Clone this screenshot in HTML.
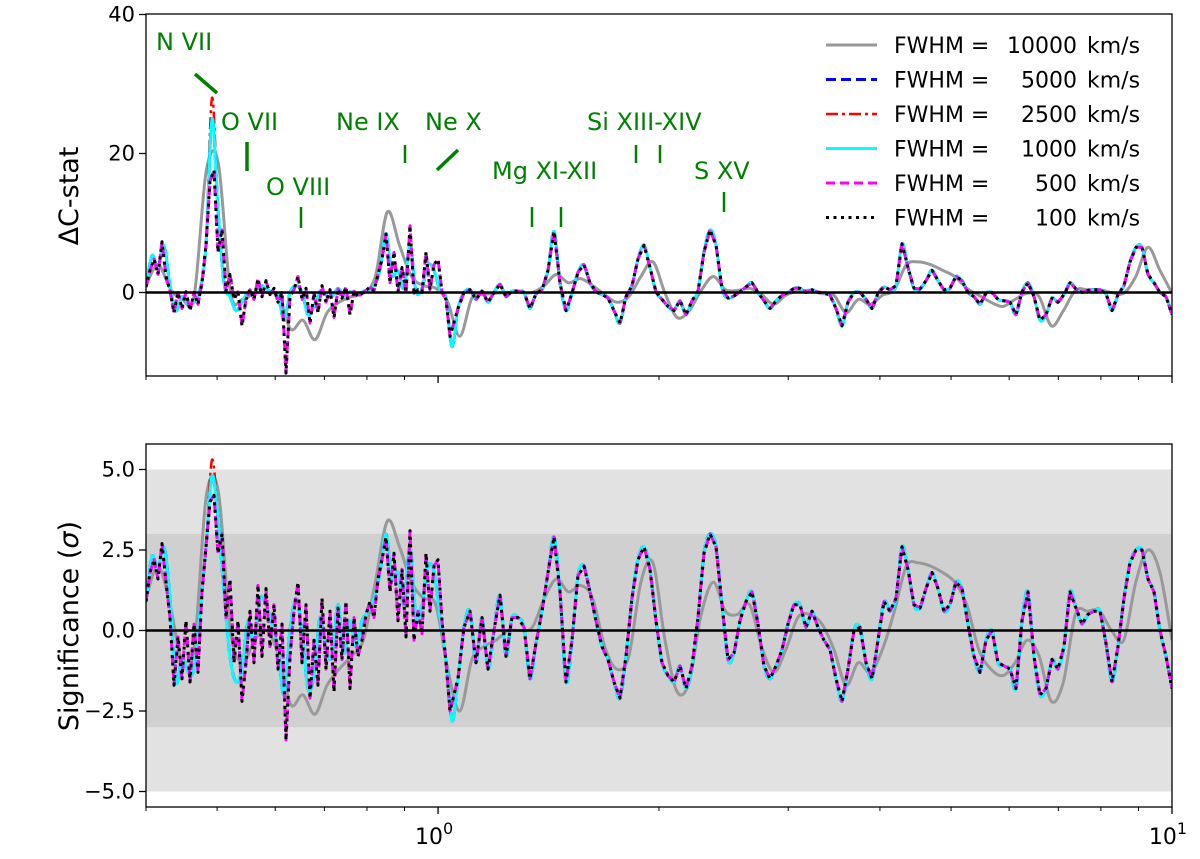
<!DOCTYPE html>
<html><head><meta charset="utf-8">
<style>
body{margin:0;background:#fff;}
svg{display:block;font-family:"DejaVu Sans","Liberation Sans",sans-serif;}
</style></head>
<body>
<svg id="chart" width="1200" height="859" viewBox="0 0 1200 859" xmlns="http://www.w3.org/2000/svg">
<defs>
<clipPath id="clipTop"><rect x="146" y="14" width="1026" height="362"/></clipPath>
<clipPath id="clipBot"><rect x="146" y="444" width="1026" height="363"/></clipPath>
</defs>
<g id="bands"></g>
<g id="top"></g>
<g id="bot"></g>
<g id="ann" fill="#008000" font-size="24">
<text x="156" y="50">N VII</text>
<line x1="195" y1="74" x2="217" y2="93" stroke="#008000" stroke-width="3.5"/>
<text x="221" y="130">O VII</text>
<line x1="247" y1="142" x2="247" y2="171" stroke="#008000" stroke-width="3.5"/>
<text x="266" y="195">O VIII</text>
<line x1="301" y1="207" x2="301" y2="228" stroke="#008000" stroke-width="2.5"/>
<text x="336" y="130">Ne IX</text>
<line x1="405" y1="145" x2="405" y2="163" stroke="#008000" stroke-width="2.5"/>
<text x="425" y="130">Ne X</text>
<line x1="437" y1="170" x2="458" y2="150" stroke="#008000" stroke-width="3.5"/>
<text x="492" y="179">Mg XI-XII</text>
<line x1="532" y1="207" x2="532" y2="227" stroke="#008000" stroke-width="2.5"/>
<line x1="561" y1="207" x2="561" y2="227" stroke="#008000" stroke-width="2.5"/>
<text x="587" y="130">Si XIII-XIV</text>
<line x1="636" y1="145" x2="636" y2="163" stroke="#008000" stroke-width="2.5"/>
<line x1="660" y1="145" x2="660" y2="163" stroke="#008000" stroke-width="2.5"/>
<text x="694" y="179">S XV</text>
<line x1="724" y1="192" x2="724" y2="212" stroke="#008000" stroke-width="2.5"/>
</g>
<g id="axes"></g>
<g id="legend" font-size="22" fill="#000"></g>
</svg>
<script>
// ---- data ----
const eMin = 0.4, eMax = 10;
const noiseEMax = 1.038;
// significance, narrow-line solutions (1000/2500/5000 km/s) on log grid 0.4-10 keV
const sigNarrow = [0.9,2.3,1.9,2.6,1.0,-1.6,-0.8,-1.3,-1.2,0.6,2.6,4.8,3.5,1.2,-0.8,-1.6,-1.2,0.3,-0.4,1.0,0.8,0.2,-0.6,-2.0,0.0,1.0,0.0,-1.8,-1.4,0.4,-0.6,-0.8,0.8,-0.7,0.3,-0.5,0.3,0.6,1.0,1.8,3.0,1.6,1.8,0.8,2.6,0.4,0.8,2.0,1.8,0.4,-0.9,-2.8,-1.5,0.1,0.6,-1.0,0.4,-1.2,0.0,1.1,-0.8,0.4,0.4,0.1,-1.5,-0.4,0.6,1.8,2.9,1.2,-1.6,-0.3,1.7,2.0,1.2,0.3,-0.5,-0.9,-1.6,-2.1,-0.8,1.0,2.2,2.6,1.9,0.3,-1.0,-1.4,-1.6,-1.1,-1.8,-1.1,0.4,2.4,3.0,2.6,0.8,-0.9,-0.7,0.3,0.9,1.2,0.2,-1.1,-1.5,-1.1,-0.6,0.2,0.8,0.8,0.1,0.6,0.1,-0.3,-0.6,-1.5,-2.2,-1.2,0.0,0.1,-1.0,-1.5,-0.3,0.9,0.6,1.0,2.6,1.9,0.8,0.7,1.3,1.8,1.3,0.6,0.8,1.5,1.3,0.2,-0.8,-1.3,-0.3,0.0,-1.0,-1.1,-1.2,-1.8,0.3,1.2,-0.8,-2.0,-1.8,-0.9,-1.2,-0.5,1.2,0.7,0.2,0.5,0.6,0.6,-0.4,-1.6,-0.5,1.0,2.1,2.5,2.5,1.6,1.2,0.0,-0.8,-1.8];
const dcNarrow = [0.8,5.3,3.6,6.8,1.0,-2.6,-0.6,-1.7,-1.4,0.4,6.8,25,12,1.4,-0.6,-2.6,-1.4,0.1,-0.2,1.0,0.6,0.0,-0.4,-4.0,0.0,1.0,0.0,-3.2,-2.0,0.2,-0.4,-0.6,0.6,-0.5,0.1,-0.3,0.1,0.4,1.0,3.2,8.5,2.6,3.2,0.6,6.8,0.2,0.6,4.0,3.2,0.2,-0.8,-7.8,-2.3,0.0,0.4,-1.0,0.2,-1.4,0.0,1.2,-0.6,0.2,0.2,0.0,-2.3,-0.2,0.4,3.2,8.8,1.4,-2.6,-0.1,2.9,4.0,1.4,0.1,-0.3,-0.8,-2.6,-4.4,-0.6,1.0,4.8,6.8,3.6,0.1,-1.0,-2.0,-2.6,-1.2,-3.2,-1.2,0.2,5.8,9.0,6.8,0.6,-0.8,-0.5,0.1,0.8,1.4,0.0,-1.2,-2.3,-1.2,-0.4,0.0,0.6,0.6,0.0,0.4,0.0,-0.1,-0.4,-2.3,-4.8,-1.4,0.0,0.0,-1.0,-2.3,-0.1,0.8,0.4,1.0,7.0,3.6,0.6,0.5,1.7,3.2,1.7,0.4,0.6,2.3,1.7,0.0,-0.6,-1.7,-0.1,0.0,-1.0,-1.2,-1.4,-3.2,0.1,1.4,-0.6,-4.0,-3.2,-0.8,-1.4,-0.3,1.4,0.5,0.0,0.3,0.4,0.4,-0.2,-2.6,-0.3,1.0,4.4,6.5,6.5,2.6,1.4,0.0,-0.6,-3.2];
// broad solution (10000 km/s), coarser log grid
const sigGray = [1.0,2.0,0.8,-1.0,-0.5,4.2,4.3,0.0,-1.0,-0.3,0.0,-0.8,-2.3,-2.0,-2.6,-1.7,-1.2,-0.8,-0.3,1.5,3.4,2.6,1.5,1.0,0.8,-1.2,-2.5,-0.9,-0.5,-0.3,0.0,0.0,0.1,1.0,1.6,1.2,1.4,1.0,-0.5,-1.2,-0.8,1.5,2.1,-0.3,-1.9,-1.6,0.5,1.5,0.6,0.5,0.8,-0.5,-1.3,-0.6,0.4,0.5,0.2,-0.6,-1.7,-1.0,-1.3,-0.6,0.6,2.0,2.1,2.0,1.8,1.5,0.8,-0.6,-1.2,-1.4,-1.0,-0.3,-0.8,-2.2,-1.6,0.5,0.6,0.6,0.0,-0.3,1.5,2.5,1.8,-0.3];
const dcGray = [1.0,4.0,0.6,-1.0,-0.3,17.6,18.5,0.0,-1.0,-0.1,0.0,-0.6,-5.3,-4.0,-6.8,-2.9,-1.4,-0.6,-0.1,2.3,11.6,6.8,2.3,1.0,0.6,-1.4,-6.3,-0.8,-0.3,-0.1,0.0,0.0,0.0,1.0,2.6,1.4,2.0,1.0,-0.3,-1.4,-0.6,2.3,4.4,-0.1,-3.6,-2.6,0.3,2.3,0.4,0.3,0.6,-0.3,-1.7,-0.4,0.2,0.3,0.0,-0.4,-2.9,-1.0,-1.7,-0.4,0.4,4.0,4.4,4.0,3.2,2.3,0.6,-0.4,-1.4,-2.0,-1.0,-0.1,-0.6,-4.8,-2.6,0.3,0.4,0.4,0.0,-0.1,2.3,6.5,3.2,-0.1];
// narrow-width (100/500 km/s) noisy solutions, fine grid 0.4-1.038 keV
const sigNoisy = [0.9,1.8,2.2,1.6,2.7,1.5,0.4,-1.7,-0.2,-1.5,0.3,-1.6,0.2,-1.3,1.2,2.6,4.0,4.2,2.4,3.0,0.4,1.6,-1.0,0.3,-2.2,-1.0,0.6,-1.0,1.4,-0.8,1.3,-0.5,0.8,-1.2,0.2,-3.4,-0.8,0.6,1.5,-1.0,0.8,-2.1,-0.3,-1.7,1.0,-1.2,0.6,-1.9,0.7,-0.9,0.9,-1.8,0.4,-0.8,-0.3,0.5,0.9,0.4,1.6,2.2,2.9,1.2,2.4,0.3,1.9,-0.2,3.1,-0.3,0.6,-0.1,2.4,0.6,2.0,2.2,0.3,-1.0,-2.5];
const dcNoisy = [0.8,3.2,4.8,2.6,7.3,2.3,0.2,-2.9,0.0,-2.3,0.1,-2.6,0.0,-1.7,1.4,6.8,16,17.6,5.8,9.0,0.2,2.6,-1.0,0.1,-4.8,-1.0,0.4,-1.0,2.0,-0.6,1.7,-0.3,0.6,-1.4,0.0,-11.6,-0.6,0.4,2.3,-1.0,0.6,-4.4,-0.1,-2.9,1.0,-1.4,0.4,-3.6,0.5,-0.8,0.8,-3.2,0.2,-0.6,-0.1,0.3,0.8,0.2,2.6,4.8,8.4,1.4,5.8,0.1,3.6,0.0,9.6,-0.1,0.4,0.0,5.8,0.4,4.0,4.8,0.1,-1.0,-6.3];
const sigPeakRed = 5.3, dcPeakRed = 28;
const yTopTicks = [0,20,40];
const yBotTicks = [-5,-2.5,0,2.5,5];
const yBotTickLabels = ["\u22125.0","\u22122.5","0.0","2.5","5.0"];
const bandOuter = [-5,5], bandInner = [-3,3];
const legendLabels = ["10000","5000","2500","1000","500","100"];

// ---- scales ----
const L=146,R=1172;
const lmin=Math.log10(eMin), lmax=Math.log10(eMax);
function xs(E){return L+(Math.log10(E)-lmin)/(lmax-lmin)*(R-L);}
function yT(v){return 292.5-v*6.95;}
function yB(v){return 630.5-v*32.2;}
function grid(n,a,b){const out=[];const la=Math.log10(a),lb=Math.log10(b);for(let i=0;i<n;i++)out.push(Math.pow(10,la+(lb-la)*i/(n-1)));return out;}
const NS="http://www.w3.org/2000/svg";
function mk(tag,attrs,parent){const el=document.createElementNS(NS,tag);for(const k in attrs)el.setAttribute(k,attrs[k]);parent.appendChild(el);return el;}
function smoothPath(pts){
  let d="M"+pts[0][0].toFixed(1)+","+pts[0][1].toFixed(1);
  for(let i=0;i<pts.length-1;i++){
    const p0=pts[Math.max(0,i-1)],p1=pts[i],p2=pts[i+1],p3=pts[Math.min(pts.length-1,i+2)];
    const c1x=p1[0]+(p2[0]-p0[0])/6,c1y=p1[1]+(p2[1]-p0[1])/6;
    const c2x=p2[0]-(p3[0]-p1[0])/6,c2y=p2[1]-(p3[1]-p1[1])/6;
    d+="C"+c1x.toFixed(1)+","+c1y.toFixed(1)+" "+c2x.toFixed(1)+","+c2y.toFixed(1)+" "+p2[0].toFixed(1)+","+p2[1].toFixed(1);
  }
  return d;
}
function series(E,V,ys){return E.map((e,i)=>[xs(e),ys(V[i])]);}
function noisySeries(ys,nV,mV){
  const En=grid(nV.length,eMin,noiseEMax),Em=grid(mV.length,eMin,eMax);
  const pts=En.map((e,i)=>[xs(e),ys(nV[i])]);
  Em.forEach((e,i)=>{if(e>noiseEMax*1.01)pts.push([xs(e),ys(mV[i])]);});
  return pts;
}

const bands=document.getElementById('bands');
let r=mk('rect',{x:L,y:yB(bandOuter[1]),width:R-L,height:yB(bandOuter[0])-yB(bandOuter[1]),fill:'#e2e2e2'},bands);


r=mk('rect',{x:L,y:yB(bandInner[1]),width:R-L,height:yB(bandInner[0])-yB(bandInner[1]),fill:'#d0d0d0'},bands);



const styles=[
 {name:'fwhm-10000',color:'#999999',w:3,dash:null},
 {name:'fwhm-5000',color:'#0000ff',w:3,dash:'10,5'},
 {name:'fwhm-2500',color:'#ff0000',w:2.5,dash:'12,4,3,4'},
 {name:'fwhm-1000',color:'#00ffff',w:3,dash:null},
 {name:'fwhm-500',color:'#ff00ff',w:3,dash:'9,5'},
 {name:'fwhm-100',color:'#000000',w:3,dash:'3,4.5'}
];

function drawPanel(gid,clip,ys,gV,nV,noisyV,redPeak,panel){
  const g=mk('g',{'clip-path':'url(#'+clip+')'},document.getElementById(gid));
  const Eg=grid(gV.length,eMin,eMax),En=grid(nV.length,eMin,eMax);
  const redV=nV.slice();const im=nV.indexOf(Math.max(...nV));redV[im]=redPeak;
  const data=[series(Eg,gV,ys),series(En,nV,ys),series(En,redV,ys),series(En,nV,ys),noisySeries(ys,noisyV,nV),noisySeries(ys,noisyV,nV)];
  const order=[0,2,1,3,4,5];
  order.forEach(k=>{
    const s=styles[k];
    const p=mk('path',{d:k>=4?('M'+data[k].map(q=>q[0].toFixed(1)+','+q[1].toFixed(1)).join('L')):smoothPath(data[k]),fill:'none',stroke:s.color,'stroke-width':s.w,'stroke-linejoin':'round'},g);
    if(s.dash)p.setAttribute('stroke-dasharray',s.dash);
    
    
  });
  const z=mk('line',{x1:L,x2:R,y1:ys(0),y2:ys(0),stroke:'#000','stroke-width':2.6},g);
  
  
}
drawPanel('top','clipTop',yT,dcGray,dcNarrow,dcNoisy,dcPeakRed,'dcstat');
drawPanel('bot','clipBot',yB,sigGray,sigNarrow,sigNoisy,sigPeakRed,'sig');

// axes
const ax=document.getElementById('axes');
function frame(y0,y1,name){
  const f=mk('rect',{x:L,y:y0,width:R-L,height:y1-y0,fill:'none',stroke:'#000','stroke-width':1.3},ax);
  
  
  const minors=[0.4,0.5,0.6,0.7,0.8,0.9,2,3,4,5,6,7,8,9];
  minors.forEach(m=>{const t=mk('line',{x1:xs(m),x2:xs(m),y1:y1,y2:y1+4,stroke:'#000','stroke-width':1},ax);
    
    });
  [1,10].forEach(m=>{const t=mk('line',{x1:xs(m),x2:xs(m),y1:y1,y2:y1+7,stroke:'#000','stroke-width':1.3},ax);
    
    });
}
frame(14,376,'top-axes-frame');
frame(444,807,'bottom-axes-frame');
function ytick(y,label){
  const t=mk('line',{x1:L-7,x2:L,y1:y,y2:y,stroke:'#000','stroke-width':1.3},ax);
  
  
  const tx=mk('text',{x:L-11,y:y+7,'text-anchor':'end','font-size':21},ax);
  tx.textContent=label;
  
  
}
yTopTicks.forEach(v=>ytick(yT(v),String(v)));
yBotTicks.forEach((v,i)=>ytick(yB(v),yBotTickLabels[i]));
[[1,'0'],[10,'1']].forEach(([e,p])=>{
  const t=mk('text',{x:xs(e)-4,y:844,'text-anchor':'middle','font-size':22},ax);
  t.innerHTML='10<tspan dy="-10" font-size="16">'+p+'</tspan>';
  
  
});
let yl=mk('text',{x:0,y:0,'text-anchor':'middle','font-size':27,transform:'translate(78,196) rotate(-90)'},ax);
yl.textContent='\u0394C-stat';


yl=mk('text',{x:0,y:0,'text-anchor':'middle','font-size':27,transform:'translate(78,626) rotate(-90)'},ax);
yl.innerHTML='Significance (<tspan font-style="italic">\u03c3</tspan>)';



// legend
const lg=document.getElementById('legend');
legendLabels.forEach((lab,i)=>{
  const s=styles[i];const y=45+i*34.5;
  const g=mk('g',{},lg);
  
  
  const ln=mk('line',{x1:826,x2:877,y1:y,y2:y,stroke:s.color,'stroke-width':s.w},g);
  if(s.dash)ln.setAttribute('stroke-dasharray',s.dash);
  
  
  const t1=mk('text',{x:894,y:y+8},g);t1.textContent='FWHM =';
  
  
  const t2=mk('text',{x:1077,y:y+8,'text-anchor':'end'},g);t2.textContent=lab;
  
  
  const t3=mk('text',{x:1087,y:y+8},g);t3.textContent='km/s';
  
  
});
</script>
</body></html>
